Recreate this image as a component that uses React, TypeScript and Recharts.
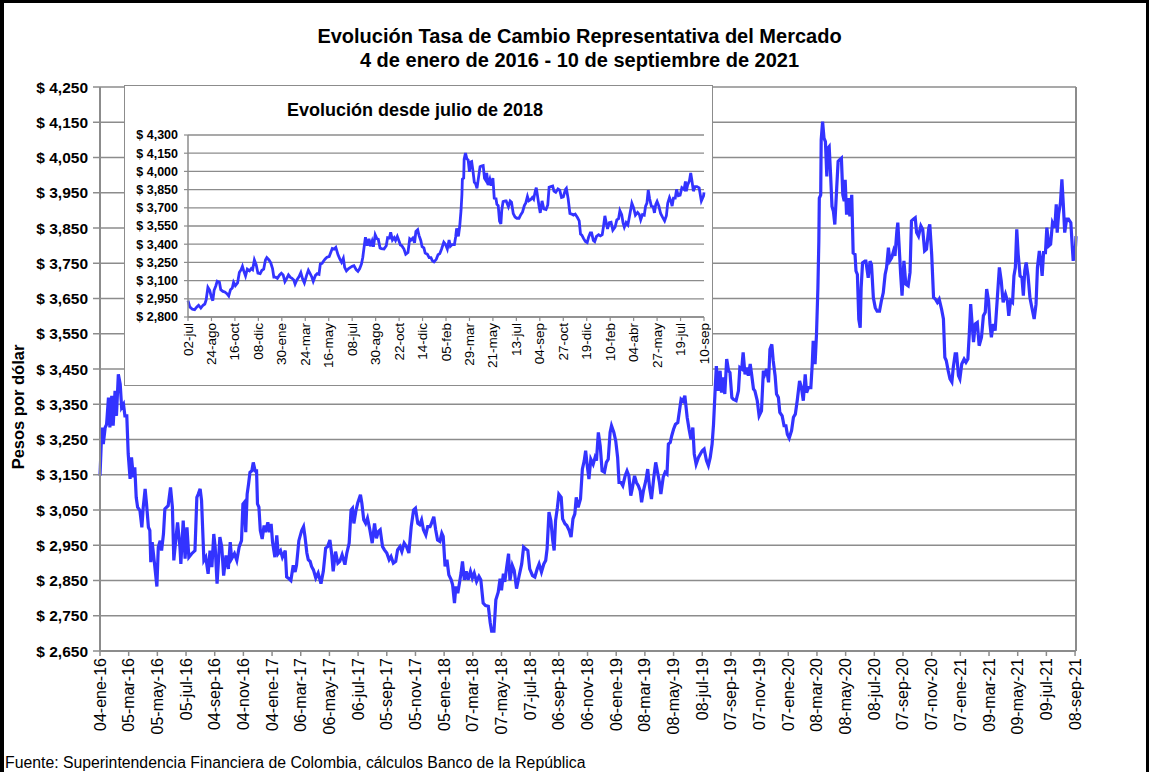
import React from "react";
import { LineChart, Line, XAxis, YAxis, CartesianGrid } from "recharts";

// Days counted from 2016-01-04 (first trading day of the series)
const START_DATE = "2016-01-04";

const dayOffsets: number[] = [
  0, 4, 7, 11, 14, 18, 21, 25, 28, 32, 35, 39, 43, 46, 50, 53, 57, 60, 64, 67, 71, 74, 77, 80, 85, 89, 92, 96, 99, 103,
  106, 108, 111, 116, 121, 124, 128, 131, 135, 138, 145, 150, 154, 157, 161, 165, 170, 172, 177, 181, 185, 189, 195,
  202, 206, 209, 213, 216, 221, 225, 230, 234, 238, 242, 245, 249, 255, 259, 263, 268, 273, 277, 280, 286, 291, 296,
  301, 304, 307, 310, 313, 316, 319, 323, 326, 330, 333, 335, 338, 341, 345, 349, 352, 357, 360, 364, 367, 372, 376,
  379, 384, 388, 394, 397, 402, 406, 411, 415, 418, 423, 429,
  433, 436, 440, 443, 447, 450, 454, 459, 464, 470, 475, 480, 484, 489, 493, 496, 501, 506, 510, 515, 521, 525, 530,
  534, 537, 540, 544, 548, 554, 557, 561, 565, 569, 574, 579, 584, 588, 592, 596, 601, 605, 610, 615, 619, 624, 629,
  633, 638, 642, 647, 652, 657, 662, 667, 671, 676, 680, 684, 688, 693, 697, 702, 705, 710, 714, 718, 723, 727, 730,
  734, 738, 742, 747, 750, 754, 757, 761, 764, 768, 771, 775, 779, 783, 788, 792, 796, 801, 806, 810, 815, 820, 826,
  830, 833, 838,
  842, 847, 851, 854, 858, 861, 865, 869, 872, 877, 881, 886, 891, 897, 901, 905, 910, 914, 920, 925, 930, 934, 939,
  944, 948, 951, 955, 959, 963, 966, 969, 973, 976, 981, 984, 989, 993, 998, 1002, 1006, 1010, 1013, 1017, 1022, 1026,
  1030, 1033, 1036, 1040, 1044, 1049, 1053, 1056, 1060, 1064, 1068, 1073, 1077, 1081, 1085, 1088, 1093, 1097, 1101,
  1104, 1108, 1112, 1117, 1121, 1125, 1129, 1132, 1137, 1141, 1145, 1149, 1152, 1156, 1161, 1165, 1169, 1173, 1178,
  1182, 1186, 1190, 1193, 1198, 1202, 1206, 1209, 1213, 1216, 1220, 1224, 1229, 1233, 1236, 1240, 1244, 1249, 1253,
  1257, 1261, 1264, 1268, 1273, 1277, 1281, 1285, 1290, 1294, 1298, 1302, 1305, 1308, 1311,
  1315, 1319, 1322, 1326, 1329, 1333, 1337, 1340, 1344, 1347, 1353, 1358, 1361, 1365, 1368, 1372, 1376, 1379, 1383,
  1386, 1390, 1393, 1398, 1402, 1407, 1411, 1414, 1418, 1422, 1425, 1429, 1432, 1436, 1439, 1443, 1446, 1451, 1455,
  1459, 1462, 1466, 1471, 1475, 1479, 1483, 1488, 1492, 1496, 1500, 1503, 1507, 1512, 1515, 1517, 1521, 1524, 1527,
  1529, 1530, 1533, 1534, 1537, 1540, 1543, 1546, 1548, 1551, 1554, 1557, 1560, 1563, 1567, 1570, 1573, 1577, 1580,
  1583, 1585, 1588, 1592, 1595, 1599, 1602, 1606, 1608, 1611, 1614, 1617, 1619, 1622, 1627, 1629, 1634, 1638, 1641,
  1645, 1649, 1653, 1658, 1662, 1666, 1670, 1673, 1677,
  1680, 1684, 1688, 1691, 1695, 1697, 1700, 1703, 1706, 1710, 1714, 1719, 1723, 1726, 1730, 1734, 1737, 1741, 1746,
  1750, 1754, 1758, 1763, 1765, 1769, 1773, 1777, 1781, 1785, 1790, 1794, 1797, 1800, 1804, 1808, 1812, 1815, 1819,
  1822, 1826, 1829, 1833, 1838, 1842, 1846, 1849, 1852, 1855, 1858, 1862, 1866, 1870, 1875, 1879, 1883, 1886, 1890,
  1893, 1896, 1900, 1904, 1909, 1913, 1917, 1921, 1926, 1930, 1933, 1937, 1941, 1944, 1947, 1950, 1953, 1957, 1961,
  1964, 1967, 1970, 1974, 1978, 1982, 1987, 1991, 1994, 1998, 2001, 2004, 2007, 2011, 2014, 2018, 2022, 2026, 2031,
  2034, 2036, 2039, 2043, 2046, 2049, 2052, 2056, 2060, 2065, 2068, 2070, 2075, 2076,
];

const trmValues: number[] = [
  3147, 3284, 3237, 3284, 3293, 3369, 3284, 3374, 3289, 3388, 3317, 3435, 3407, 3341, 3350, 3317, 3317, 3209, 3138,
  3199, 3143, 3171, 3086, 3058, 3048, 3001, 3058, 3110, 3067, 3001, 2992, 2902, 2959, 2897, 2833, 2945, 2963, 2935,
  2982, 3053, 3062, 3114, 3058, 2907, 2963, 3015, 2945, 2897, 3020, 2912, 3001, 2916, 2926, 2935, 3086, 3095, 3110,
  3077, 2907, 2916, 2869, 2935, 2888, 2982, 2945, 2841, 2973, 2945, 2864, 2921, 2883, 2959, 2912, 2926, 2907, 2945,
  2963, 3067, 3072, 2987, 3095, 3124, 3157, 3161, 3185, 3161, 3161, 3067, 3058, 2992, 2968, 3006, 2987, 3015, 2987,
  3011, 2959, 2916, 2978, 2926, 2935, 2916, 2935, 2860, 2855, 2850, 2893, 2874, 2893, 2963, 2992,
  3003, 2975, 2928, 2909, 2904, 2890, 2880, 2857, 2871, 2841, 2876, 2942, 2946, 2965, 2923, 2876, 2932, 2899, 2904,
  2923, 2895, 2928, 2956, 3050, 3055, 3012, 3045, 3069, 3093, 3069, 3022, 3012, 3027, 2994, 2956, 3012, 2970, 2989,
  2994, 2946, 2937, 2928, 2909, 2918, 2899, 2904, 2937, 2946, 2932, 2956, 2946, 2928, 3003, 3050, 3055, 3012, 3008,
  3022, 2994, 2979, 3003, 3003, 3012, 3031, 2994, 2965, 2961, 2984, 2975, 2890, 2909, 2866, 2852, 2838, 2786, 2833,
  2814, 2838, 2871, 2904, 2852, 2876, 2852, 2876, 2857, 2871, 2847, 2862, 2852, 2786, 2779, 2777, 2730, 2706, 2706,
  2795, 2817, 2855, 2822, 2869, 2846, 2888, 2926, 2850, 2893, 2879, 2827, 2860, 2897, 2945, 2940, 2935, 2883, 2864,
  2860, 2883, 2897, 2874, 2897, 2907, 2940, 3044, 3020, 2963, 2935, 3020, 3058, 3095, 3086, 3025, 3011, 3006, 2992,
  2973, 3025, 3039, 3086, 3058, 3081, 3166, 3190, 3218, 3180, 3138, 3194, 3180, 3199, 3190, 3270, 3232, 3161, 3157,
  3185, 3194, 3270, 3289, 3270, 3246, 3199, 3128, 3128, 3119, 3147, 3161, 3147, 3091, 3110, 3147, 3128, 3119, 3105,
  3072, 3105, 3133, 3166, 3114, 3081, 3143, 3185, 3157, 3128, 3095, 3143, 3157, 3152, 3237, 3242, 3260, 3279, 3293,
  3298, 3336, 3364, 3359, 3374, 3312, 3279, 3251, 3284, 3209, 3180, 3199, 3209, 3218, 3223, 3190, 3176, 3199, 3237,
  3293, 3378, 3458,
  3388, 3445, 3383, 3426, 3379, 3478, 3445, 3440, 3369, 3364, 3360, 3388, 3454, 3450, 3497, 3435, 3454, 3431, 3464,
  3435, 3393, 3388, 3360, 3317, 3331, 3445, 3435, 3450, 3412, 3506, 3520, 3473, 3431, 3379, 3369, 3327, 3317, 3289,
  3289, 3265, 3254, 3275, 3313, 3322, 3360, 3416, 3397, 3360, 3435, 3383, 3397, 3397, 3464, 3530, 3464, 3548, 3680,
  3812, 3935, 3944, 4100, 4152, 4105, 4095, 3996, 4076, 4081, 4001, 3911, 3897, 3860, 3963, 4039, 4043, 4048, 3944,
  3926, 3987, 3888, 3935, 3883, 3944, 3779, 3775, 3728, 3718, 3591, 3567, 3680, 3751, 3756, 3756, 3709, 3756, 3746,
  3652, 3624, 3614, 3614, 3643, 3666, 3718, 3737, 3794,
  3757, 3766, 3785, 3771, 3842, 3865, 3794, 3719, 3658, 3757, 3691, 3686, 3724, 3870, 3875, 3879, 3837, 3827, 3856,
  3846, 3785, 3790, 3851, 3860, 3776, 3653, 3648, 3639, 3648, 3620, 3592, 3483, 3474, 3446, 3422, 3413, 3455, 3493,
  3493, 3431, 3422, 3464, 3478, 3469, 3478, 3549, 3634, 3578, 3526, 3578, 3582, 3516, 3540, 3601, 3611, 3677, 3644,
  3578, 3540, 3578, 3559, 3658, 3738, 3700, 3639, 3662, 3644, 3601, 3644, 3639, 3714, 3738, 3846, 3776, 3714, 3709,
  3658, 3728, 3752, 3714, 3653, 3625, 3592, 3634, 3738, 3785, 3757, 3714, 3780, 3780, 3851, 3799, 3804, 3865, 3851,
  3917, 3837, 3889, 3922, 3988, 3917, 3837, 3875, 3875, 3865, 3799, 3757, 3799, 3827,
];

const mainTickLabels: string[] = [
  "04-ene-16", "05-mar-16", "05-may-16", "05-jul-16", "04-sep-16", "04-nov-16", "04-ene-17", "06-mar-17",
  "06-may-17", "06-jul-17", "05-sep-17", "05-nov-17", "05-ene-18", "07-mar-18", "07-may-18", "07-jul-18",
  "06-sep-18", "06-nov-18", "06-ene-19", "08-mar-19", "08-may-19", "08-jul-19", "07-sep-19", "07-nov-19",
  "07-ene-20", "08-mar-20", "08-may-20", "08-jul-20", "07-sep-20", "07-nov-20", "07-ene-21", "09-mar-21",
  "09-may-21", "09-jul-21", "08-sep-21",
];
const MAIN_TICK_STEP_DAYS = 61;
const MAIN_END_DAY = 2076; // 2021-09-10

const insetTickLabels: string[] = [
  "02-jul", "24-ago", "16-oct", "08-dic", "30-ene", "24-mar", "16-may", "08-jul", "30-ago", "22-oct", "14-dic",
  "05-feb", "29-mar", "21-may", "13-jul", "04-sep", "27-oct", "19-dic", "10-feb", "04-abr", "27-may", "19-jul",
  "10-sep",
];
const INSET_START_DAY = 910; // 2018-07-02
const INSET_TICK_STEP_DAYS = 53;

const mainYTicks: number[] = [2650, 2750, 2850, 2950, 3050, 3150, 3250, 3350, 3450, 3550, 3650, 3750, 3850, 3950, 4050, 4150, 4250];
const insetYTicks: number[] = [2800, 2950, 3100, 3250, 3400, 3550, 3700, 3850, 4000, 4150, 4300];

const data = dayOffsets.map((d, i) => ({ day: d, trm: trmValues[i] }));
const insetData = data.filter((p) => p.day >= INSET_START_DAY);
const mainXTicks = mainTickLabels.map((_, i) => i * MAIN_TICK_STEP_DAYS);
const insetXTicks = insetTickLabels.map((_, i) => INSET_START_DAY + i * INSET_TICK_STEP_DAYS);

const FONT = "'Liberation Sans', Arial, Helvetica, sans-serif";
const LINE_COLOR = "#3333ff";
const GRID = "#8c8c8c";
const fmtPeso = (v: number) => "$ " + v.toLocaleString("en-US");

const MainXTick = (props: any) => {
  const { x, y, payload } = props;
  const idx = Math.round(payload.value / MAIN_TICK_STEP_DAYS);
  return (
    <text
      transform={`translate(${x},${y}) rotate(-90)`}
      x={0}
      y={0}
      textAnchor="end"
      dominantBaseline="central"
      fontSize={16}
      fontFamily={FONT}
      fill="#000"
    >
      {mainTickLabels[idx]}
    </text>
  );
};

const InsetXTick = (props: any) => {
  const { x, y, payload } = props;
  const idx = Math.round((payload.value - INSET_START_DAY) / INSET_TICK_STEP_DAYS);
  return (
    <text
      transform={`translate(${x},${y}) rotate(-90)`}
      x={0}
      y={0}
      textAnchor="end"
      dominantBaseline="central"
      fontSize={13.5}
      fontFamily={FONT}
      fill="#000"
    >
      {insetTickLabels[idx]}
    </text>
  );
};

export default function App() {
  return (
    <div style={{ position: "absolute", left: 0, top: 0, width: 1152, height: 772, background: "#fff", overflow: "hidden", fontFamily: FONT }}>
      <div style={{ position: "absolute", left: 0, top: 0 }}>
        <LineChart width={1152} height={772} data={data} margin={{ top: 87, right: 6, bottom: 21, left: 10 }}>
          <CartesianGrid yAxisId="left" vertical={false} stroke={GRID} strokeWidth={1.5} />
          <XAxis
            dataKey="day"
            type="number"
            domain={[0, MAIN_END_DAY]}
            ticks={mainXTicks}
            interval={0}
            height={100}
            tick={(p: any) => <MainXTick {...p} />}
            tickSize={5}
            tickMargin={2}
            axisLine={{ stroke: GRID, strokeWidth: 2 }}
            tickLine={{ stroke: GRID, strokeWidth: 1.5 }}
          />
          <YAxis
            yAxisId="left"
            type="number"
            domain={[2650, 4250]}
            ticks={mainYTicks}
            interval={0}
            width={90}
            tickFormatter={fmtPeso}
            tick={{ fontSize: 15.5, fontWeight: 700, fill: "#000", fontFamily: FONT }}
            tickSize={7}
            tickMargin={5}
            axisLine={{ stroke: GRID, strokeWidth: 2 }}
            tickLine={{ stroke: GRID, strokeWidth: 1.5 }}
          />
          <YAxis
            yAxisId="right"
            orientation="right"
            type="number"
            domain={[2650, 4250]}
            ticks={mainYTicks}
            interval={0}
            width={70}
            tickFormatter={fmtPeso}
            tick={{ fontSize: 15.5, fontWeight: 700, fill: "#000", fontFamily: FONT }}
            tickSize={7}
            tickMargin={5}
            axisLine={{ stroke: GRID, strokeWidth: 2 }}
            tickLine={{ stroke: GRID, strokeWidth: 1.5 }}
          />
          <Line
            yAxisId="left"
            type="linear"
            dataKey="trm"
            stroke={LINE_COLOR}
            strokeWidth={3.2}
            dot={false}
            activeDot={false}
            isAnimationActive={false}
          />
        </LineChart>
      </div>

      <div
        style={{
          position: "absolute",
          left: 124,
          top: 85,
          width: 589,
          height: 301,
          boxSizing: "border-box",
          border: "1.5px solid #8c8c8c",
          background: "#fff",
        }}
      >
        <LineChart width={586} height={298} data={insetData} margin={{ top: 49, right: 7, bottom: 7, left: 3 }}>
          <CartesianGrid vertical={false} stroke={GRID} strokeWidth={1.3} />
          <XAxis
            dataKey="day"
            type="number"
            domain={[INSET_START_DAY, MAIN_END_DAY]}
            ticks={insetXTicks}
            interval={0}
            height={60}
            tick={(p: any) => <InsetXTick {...p} />}
            tickSize={4}
            tickMargin={2}
            axisLine={{ stroke: GRID, strokeWidth: 1.5 }}
            tickLine={{ stroke: GRID, strokeWidth: 1.2 }}
          />
          <YAxis
            type="number"
            domain={[2800, 4300]}
            ticks={insetYTicks}
            interval={0}
            width={60}
            tickFormatter={fmtPeso}
            tick={{ fontSize: 12.5, fontWeight: 700, fill: "#000", fontFamily: FONT }}
            tickSize={4}
            tickMargin={6}
            axisLine={{ stroke: GRID, strokeWidth: 1.5 }}
            tickLine={{ stroke: GRID, strokeWidth: 1.2 }}
          />
          <Line
            type="linear"
            dataKey="trm"
            stroke={LINE_COLOR}
            strokeWidth={2.8}
            dot={false}
            activeDot={false}
            isAnimationActive={false}
          />
        </LineChart>
      </div>

      <svg width={1152} height={772} style={{ position: "absolute", left: 0, top: 0, pointerEvents: "none" }}>
        <text x={579.5} y={36} textAnchor="middle" dominantBaseline="central" fontSize={20} fontWeight={700} fontFamily={FONT} fill="#000">
          Evolución Tasa de Cambio Representativa del Mercado
        </text>
        <text x={579.5} y={60} textAnchor="middle" dominantBaseline="central" fontSize={20} fontWeight={700} fontFamily={FONT} fill="#000">
          4 de enero de 2016 - 10 de septiembre de 2021
        </text>
        <text
          transform="translate(18,407) rotate(-90)"
          textAnchor="middle"
          dominantBaseline="central"
          fontSize={16.5}
          fontWeight={700}
          fontFamily={FONT}
          fill="#000"
        >
          Pesos por dólar
        </text>
        <text x={415} y={110} textAnchor="middle" dominantBaseline="central" fontSize={18} fontWeight={700} fontFamily={FONT} fill="#000">
          Evolución desde julio de 2018
        </text>
        <text x={5} y={762} dominantBaseline="central" fontSize={15.8} fontFamily={FONT} fill="#000">
          Fuente: Superintendencia Financiera de Colombia, cálculos Banco de la República
        </text>
      </svg>

      <div
        style={{
          position: "absolute",
          left: 0,
          top: 0,
          width: 1149,
          height: 800,
          boxSizing: "border-box",
          borderLeft: "4px solid #000",
          borderTop: "3px solid #000",
          borderRight: "3px solid #000",
          pointerEvents: "none",
        }}
      />
    </div>
  );
}
